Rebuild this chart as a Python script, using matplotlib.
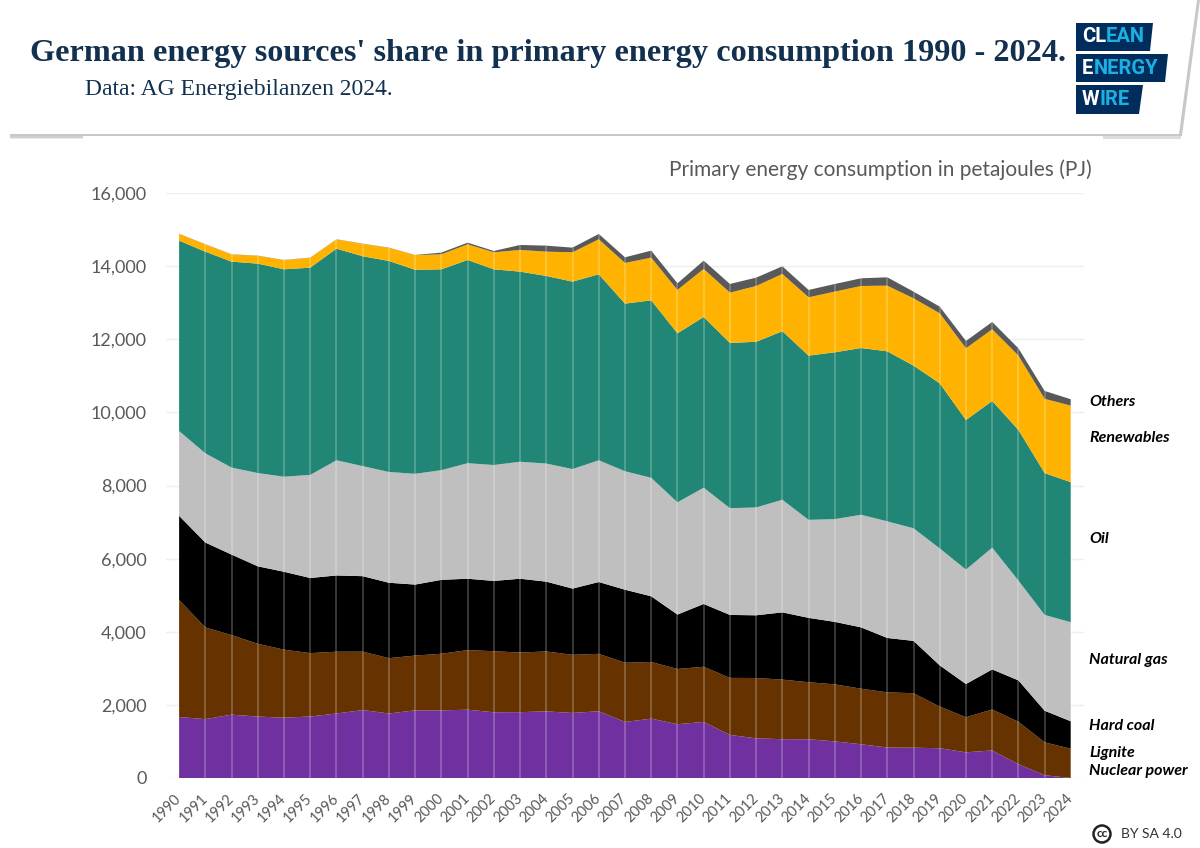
import numpy as np
import matplotlib
matplotlib.use("Agg")
import matplotlib.pyplot as plt
from matplotlib.patches import Polygon, Circle, Rectangle

years = list(range(1990, 2025))
nuclear_top = [1668,1610,1733,1680,1650,1682,1764,1859,1764,1851,1849,1868,1798,1801,1822,1779,1826,1533,1623,1472,1533,1178,1085,1061,1060,1001,923,833,829,814,702,754,378,76,0]
lignite_top = [4870,4117,3909,3670,3510,3416,3454,3455,3278,3349,3399,3498,3468,3431,3462,3369,3396,3153,3173,2982,3043,2738,2735,2691,2620,2561,2443,2343,2319,1954,1662,1874,1538,976,800]
hardcoal_top = [7170,6440,6110,5790,5640,5470,5540,5520,5340,5290,5420,5450,5390,5450,5370,5180,5360,5150,4970,4470,4760,4460,4450,4530,4380,4270,4120,3830,3750,3080,2570,2970,2670,1840,1550]
gas_top = [9490,8880,8490,8340,8240,8290,8690,8530,8370,8320,8420,8610,8560,8650,8600,8450,8690,8390,8210,7540,7940,7380,7400,7610,7060,7080,7200,7020,6830,6280,5700,6300,5400,4460,4260]
oil_top = [14697,14396,14123,14068,13913,13958,14478,14270,14141,13900,13913,14168,13913,13849,13731,13576,13777,12974,13065,12163,12609,11900,11930,12220,11552,11643,11761,11670,11279,10795,9792,10312,9520,8340,8090]
renew_top = [14880,14595,14318,14282,14163,14227,14729,14610,14501,14300,14323,14597,14378,14442,14396,14378,14734,14087,14232,13348,13923,13275,13457,13786,13147,13303,13457,13466,13120,12710,11752,12272,11552,10370,10184]
others_top = [14885,14600,14323,14287,14168,14232,14734,14615,14506,14305,14370,14642,14414,14579,14560,14506,14880,14241,14424,13530,14150,13512,13685,13995,13348,13512,13667,13694,13303,12892,11953,12473,11752,10586,10358]
series_names = ["Nuclear power","Lignite","Hard coal","Natural gas","Oil","Renewables","Others"]
series_colors = ["#7030a0","#663300","#000000","#bfbfbf","#218675","#ffb300","#595959"]
y_ticks = [0,2000,4000,6000,8000,10000,12000,14000,16000]

W,H = 1200,848
tops = np.array([nuclear_top,lignite_top,hardcoal_top,gas_top,oil_top,renew_top,others_top],float)
parts = np.vstack([tops[0],np.diff(tops,axis=0)])

plt.rcParams['font.family'] = ['Lato','DejaVu Sans']
fig = plt.figure(figsize=(12,8.48),dpi=100,facecolor='white')
ax = fig.add_axes([166/W,1-778/H,918/W,585/H])
ax.stackplot(years,parts,colors=series_colors,linewidth=0,zorder=3)
ax.vlines(years[1:],0,tops[-1][1:],color='white',alpha=0.26,lw=1.2,zorder=4)
ax.set_xlim(1989.5,2024.5); ax.set_ylim(0,16000)
ax.set_yticks(y_ticks); ax.set_yticklabels([f"{v:,}" for v in y_ticks],fontsize=13,color='#595959')
ax.set_xticks(years); ax.set_xticklabels(years,fontsize=10.5,color='#595959',rotation=45,ha='right',va='center',rotation_mode='anchor')
ax.grid(axis='y',color='#efefef',lw=1); ax.set_axisbelow(True)
ax.tick_params(length=0); ax.tick_params(axis='x',pad=13)
ax.tick_params(axis='y',pad=14)
for s in ax.spines.values(): s.set_visible(False)

ov = fig.add_axes([0,0,1,1],zorder=10); ov.set_xlim(0,W); ov.set_ylim(H,0); ov.axis('off'); ov.patch.set_alpha(0)
# header shadow
ov.add_patch(Polygon([(10,134),(1179,134),(1197,0),(1200,0),(1182,136),(10,136)],fc='#c8c8c8',ec='none'))
ov.add_patch(Rectangle((10,136),73,1.5,fc='#cfcfcf',ec='none'))
ov.add_patch(Rectangle((10,137.5),73,1.5,fc='#ececec',ec='none'))
ov.add_patch(Rectangle((1103,136),78,2.5,fc='#dddddd',ec='none'))
ov.text(30,54,"German energy sources' share in primary energy consumption 1990 - 2024.",family=['Liberation Serif'],weight='bold',fontsize=23.2,color='#12304f',va='center')
ov.text(85,89,"Data: AG Energiebilanzen 2024.",family=['Liberation Serif'],fontsize=17,color='#12304f',va='center')
ov.text(1092,170,"Primary energy consumption in petajoules (PJ)",fontsize=15,color='#595959',ha='right',va='center')
# logo
navy='#002d5c'; cyan='#1bb0e4'
for (x0,x1,x2,y0,y1,a,b) in [(1076,1153,1150,23,51,"CL","EAN"),(1076,1168,1165,54,82,"E","NERGY"),(1076,1143,1139,85,114,"W","IRE")]:
    ov.add_patch(Polygon([(x0,y0),(x1,y0),(x2,y1),(x0,y1)],fc=navy,ec='none'))
    t=ov.text(x0+6,(y0+y1)/2,a,color='white',weight='bold',fontsize=14.5,va='center',family=['Liberation Sans Narrow','Roboto'])
    fig.canvas.draw()
    bb=t.get_window_extent().transformed(ov.transData.inverted())
    ov.text(bb.x1,(y0+y1)/2,b,color=cyan,weight='bold',fontsize=14.5,va='center',family=['Liberation Sans Narrow','Roboto'])
# series labels
for name,y in [("Others",401),("Renewables",437),("Oil",538),("Natural gas",659),("Hard coal",725),("Lignite",752),("Nuclear power",770)]:
    ov.text(1089,y+1,name,fontsize=11.5,weight='bold',style='italic',color='black',va='center')
# cc
ov.add_patch(Circle((1102,834),8.5,fc='none',ec='#222222',lw=1.8))
ov.text(1102,833.5,"cc",fontsize=8.5,weight='bold',ha='center',va='center',color='#222222')
ov.text(1121,834,"BY SA 4.0",fontsize=10,color='#333333',va='center')
fig.savefig("out.png",dpi=100)
